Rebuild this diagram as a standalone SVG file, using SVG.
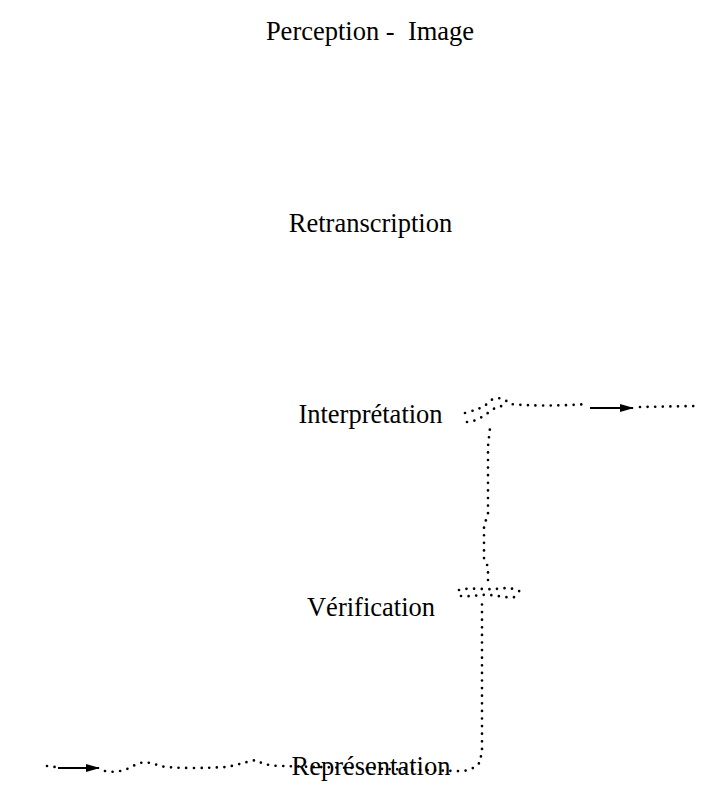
<svg xmlns="http://www.w3.org/2000/svg" width="721" height="787" viewBox="0 0 721 787">
<style>
.lbl{font-family:"Liberation Serif","Times New Roman",serif;font-size:26.5px;fill:#000;text-anchor:middle;white-space:pre}
.dot{fill:none;stroke:#000;stroke-width:2.7;stroke-linecap:round;stroke-dasharray:0 7.6}
.arr{fill:none;stroke:#000;stroke-width:1.8}
</style>
<defs>
<marker id="ah" markerUnits="userSpaceOnUse" markerWidth="14" markerHeight="10" refX="13" refY="4" orient="auto">
<path d="M0,0 L14,4 L0,8 Z" fill="#000"/>
</marker>
</defs>
<rect width="721" height="787" fill="#fff"/>
<g id="n-perception"><text class="lbl" x="370" y="40" xml:space="preserve">Perception -  Image</text></g>
<g id="n-retranscription"><text class="lbl" x="370.5" y="232">Retranscription</text></g>
<g id="n-interpretation"><text class="lbl" x="370.5" y="423">Interprétation</text></g>
<g id="n-verification"><text class="lbl" x="371" y="616">Vérification</text></g>
<g id="n-representation"><text class="lbl" x="371" y="775">Représentation</text></g>
<g id="connectors">
<path class="dot" d="M47,766 L55,767"/>
<path class="arr" d="M58,768 L99,768" marker-end="url(#ah)"/>
<path class="dot" d="M105,771 C115,773 125,771 135,765 C142,761 150,762 160,766 C175,769 210,768 225,767 C235,766 245,762 256,760 C262,764 270,766 283,766 L457,771 C466,772 476,768 480,762 L482,750 L482,600"/>
<path class="dot" d="M459,590 C470,587 485,590 495,589 C505,588 512,587 521,592"/>
<path class="dot" d="M461,596 C472,597 482,594 490,595 C500,596 510,599 520,596"/>
<path class="dot" d="M488,580 L488,567 L484,558 L484,525 L488,515 L488,446 L490,428"/>
<path class="dot" d="M465,413 C475,410 484,408 490,401 C496,396 504,398 510,404 C530,406 560,406 587,404"/>
<path class="dot" d="M467,422 C475,422 484,416 492,410 C496,407 500,406 504,406"/>
<path class="arr" d="M590,408 L633,408" marker-end="url(#ah)"/>
<path class="dot" d="M640,407 L697,406"/>
</g>
</svg>
